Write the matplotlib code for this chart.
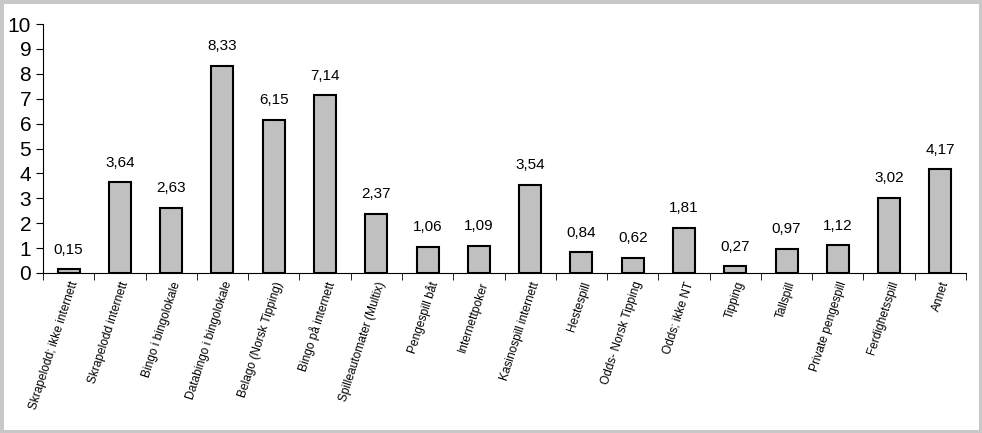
import numpy as np
import matplotlib.pyplot as plt
from matplotlib import font_manager

names = [f.name for f in font_manager.fontManager.ttflist]
fam = 'Liberation Sans Narrow' if 'Liberation Sans Narrow' in names else 'Liberation Sans'
plt.rcParams['font.family'] = [fam, 'DejaVu Sans']

categories = ['Skrapelodd; ikke internett', 'Skrapelodd internett', 'Bingo i bingolokale',
              'Databingo i bingolokale', 'Belago (Norsk Tipping)', 'Bingo på internett',
              'Spilleautomater (Multix)', 'Pengespill båt', 'Internettpoker',
              'Kasinospill internett', 'Hestespill', 'Odds- Norsk Tipping', 'Odds; ikke NT',
              'Tipping', 'Tallspill', 'Private pengespill', 'Ferdighetsspill', 'Annet']
values = [0.15, 3.64, 2.63, 8.33, 6.15, 7.14, 2.37, 1.06, 1.09, 3.54, 0.84, 0.62, 1.81,
          0.27, 0.97, 1.12, 3.02, 4.17]

fig = plt.figure(figsize=(9.82, 4.33), dpi=100, edgecolor='#c8c8c8', linewidth=5)
ax = fig.add_axes([43/982, 1-273/433, (966-43)/982, (273-24)/433])

x = np.arange(len(categories))
ax.bar(x, values, width=0.43, color='#c0c0c0', edgecolor='black', linewidth=1.5)
for xi, v in zip(x, values):
    ax.annotate(('%.2f' % v).replace('.', ','), (xi, v), xytext=(0, 9),
                textcoords='offset points', ha='center', va='bottom', fontsize=11)

ax.set_xlim(-0.5, len(categories) - 0.5)
ax.set_ylim(0, 10)
ax.set_yticks(range(0, 11))
ax.tick_params(axis='y', labelsize=15, length=5, direction='out')
ax.set_xticks(x)
ax.set_xticklabels(categories, rotation=72, ha='right', rotation_mode='anchor', fontsize=8.6)
ax.tick_params(axis='x', length=0, pad=5)
ax.set_xticks(np.arange(-0.5, len(categories)), minor=True)
ax.tick_params(axis='x', which='minor', length=5, direction='out')
for s in ['top', 'right']:
    ax.spines[s].set_visible(False)

plt.savefig('out.png', dpi=100, edgecolor=fig.get_edgecolor())
